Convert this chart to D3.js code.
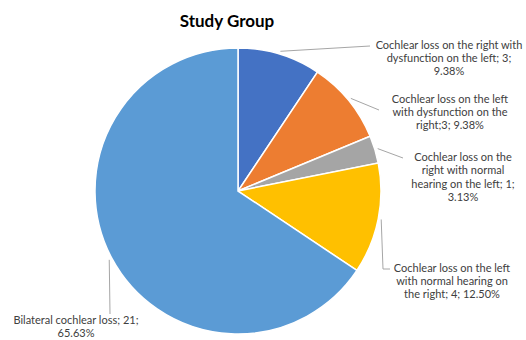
<!DOCTYPE html>
<html><head><meta charset="utf-8">
<script src="https://cdn.jsdelivr.net/npm/d3@7"></script>
<style>body{margin:0;background:#fff}</style>
</head><body>
<script>
const categories = [
  "Cochlear loss on the right with dysfunction on the left",
  "Cochlear loss on the left with dysfunction on the right",
  "Cochlear loss on the right with normal hearing on the left",
  "Cochlear loss on the left with normal hearing on the right",
  "Bilateral cochlear loss"
];
const values = [3, 3, 1, 4, 21];
const percentLabels = ["9.38%", "9.38%", "3.13%", "12.50%", "65.63%"];
const labelLines = [
  ["Cochlear loss on the right with", "dysfunction on the left; 3;", "9.38%"],
  ["Cochlear loss on the left", "with dysfunction on the", "right;3; 9.38%"],
  ["Cochlear loss on the", "right with normal", "hearing on the left; 1;", "3.13%"],
  ["Cochlear loss on the left", "with normal hearing on", "the right; 4; 12.50%"],
  ["Bilateral cochlear loss; 21;", "65.63%"]
];
const colors = ["#4472C4", "#ED7D31", "#A5A5A5", "#FFC000", "#5B9BD5"];

// layout: label text centre x, first baseline y, leader path points after start
const layout = [
  {tx: 449, ty: 48.5, pts: [[370, 46]]},
  {tx: 450, ty: 102.5, pts: [[379, 110]]},
  {tx: 463, ty: 161, pts: [[403, 158]]},
  {tx: 452, ty: 271.5, pts: [[383, 269], [390, 269]]},
  {tx: 76, ty: 324, pts: [[110, 314]]}
];

const W = 526, H = 340, cx = 238, cy = 191, R = 143;
const svg = d3.select("body").append("svg").attr("width", W).attr("height", H)
  .style("font-family", "Lato, 'Open Sans', sans-serif");

svg.append("text").attr("x", 227).attr("y", 27).attr("text-anchor", "middle")
  .attr("font-size", 17).attr("font-weight", "bold").attr("fill", "#000")
  .text("Study Group");

const pie = d3.pie().sort(null).value(d => d)(values);
const arc = d3.arc().innerRadius(0).outerRadius(R);
const g = svg.append("g").attr("transform", `translate(${cx},${cy})`);
g.selectAll("path").data(pie).join("path")
  .attr("d", arc).attr("fill", (d, i) => colors[i])
  .attr("stroke", "#fff").attr("stroke-width", 1.5);

pie.forEach((d, i) => {
  const a = (d.startAngle + d.endAngle) / 2;
  const sx = cx + (R + 3) * Math.sin(a), sy = cy - (R + 3) * Math.cos(a);
  const pts = [[sx, sy], ...layout[i].pts];
  svg.append("path").attr("d", d3.line()(pts)).attr("fill", "none")
    .attr("stroke", "#A6A6A6").attr("stroke-width", 1);
  const t = svg.append("text").attr("text-anchor", "middle")
    .attr("font-size", 11).attr("fill", "#404040");
  labelLines[i].forEach((ln, j) => {
    t.append("tspan").attr("x", layout[i].tx).attr("y", layout[i].ty + j * 13.4).text(ln);
  });
});
</script>
</body></html>
